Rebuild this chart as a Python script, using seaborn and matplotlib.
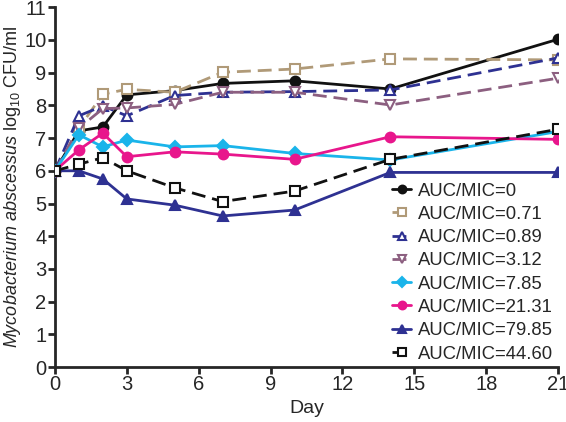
import numpy as np
import pandas as pd
import matplotlib
matplotlib.use("Agg")
import matplotlib.pyplot as plt
import seaborn as sns

# Data
days = [0, 1, 2, 3, 5, 7, 10, 14, 21]
labels = ["AUC/MIC=0", "AUC/MIC=0.71", "AUC/MIC=0.89", "AUC/MIC=3.12",
          "AUC/MIC=7.85", "AUC/MIC=21.31", "AUC/MIC=79.85", "AUC/MIC=44.60"]
auc_0 = [6.0, 7.22, 7.34, 8.32, 8.45, 8.67, 8.75, 8.50, 10.02]
auc_071 = [6.0, 7.30, 8.34, 8.49, 8.40, 9.01, 9.11, 9.42, 9.39]
auc_089 = [6.0, 7.68, 7.98, 7.68, 8.30, 8.40, 8.42, 8.47, 9.45]
auc_312 = [6.0, 7.30, 7.90, 7.92, 8.03, 8.40, 8.40, 8.01, 8.83]
auc_785 = [6.0, 7.10, 6.73, 6.94, 6.73, 6.77, 6.53, 6.33, 7.20]
auc_2131 = [6.0, 6.64, 7.15, 6.43, 6.58, 6.51, 6.35, 7.04, 6.96]
auc_7985 = [6.0, 6.00, 5.75, 5.14, 4.95, 4.62, 4.80, 5.95, 5.95]
auc_4460 = [6.0, 6.20, 6.40, 6.00, 5.48, 5.06, 5.38, 6.35, 7.27]
series = [auc_0, auc_071, auc_089, auc_312, auc_785, auc_2131, auc_7985, auc_4460]

colors = ["#111111", "#b09a78", "#2e3192", "#8c5f80", "#1ab4ea", "#e8168c", "#2e3192", "#111111"]
markers = ["o", "s", "^", "v", "D", "o", "^", "s"]
filled = [True, False, False, False, True, True, True, False]
dashed = [False, True, True, True, False, False, False, True]

sns.set_style("ticks")
plt.rcParams["font.family"] = ["Liberation Sans", "DejaVu Sans"]
plt.rcParams["mathtext.fontset"] = "custom"
plt.rcParams["mathtext.rm"] = "Liberation Sans"
plt.rcParams["mathtext.it"] = "Liberation Sans:italic"

fig = plt.figure(figsize=(5.66, 4.22), dpi=100)
ax = fig.add_axes([0.097, 0.130, 0.889, 0.853])

for lab, vals, c, m, f, d in zip(labels, series, colors, markers, filled, dashed):
    df = pd.DataFrame({"day": days, "cfu": vals})
    ms = 7 if m != "D" else 6
    sns.lineplot(data=df, x="day", y="cfu", ax=ax, color=c, marker=m,
                 markersize=ms, markeredgewidth=1.5,
                 markerfacecolor=c if f else "white", markeredgecolor=c,
                 linestyle=(0, (5, 2.5)) if d else "-", linewidth=2.0,
                 label=lab, zorder=3)

ax.set_xlim(0, 21)
ax.set_ylim(0, 11)
ax.set_xticks(np.arange(0, 22, 3))
ax.set_yticks(np.arange(0, 12, 1))
ax.tick_params(axis="both", labelsize=14.5, width=2, length=5, direction="out", pad=1)
for s in ["left", "bottom"]:
    ax.spines[s].set_linewidth(2)
sns.despine(ax=ax)
ax.set_xlabel("Day", fontsize=14, labelpad=4)
ax.set_ylabel(r"$\it{Mycobacterium\ abscessus}$ log$_{10}$ CFU/ml", fontsize=13, labelpad=1)

ax.legend(loc="lower right", bbox_to_anchor=(1.0, 0.0), frameon=False, fontsize=13.3,
          handlelength=1.0, handletextpad=0.4, labelspacing=0.34, borderaxespad=0.0,
          borderpad=0.25, markerscale=0.8)

fig.savefig("out.png", dpi=100)
